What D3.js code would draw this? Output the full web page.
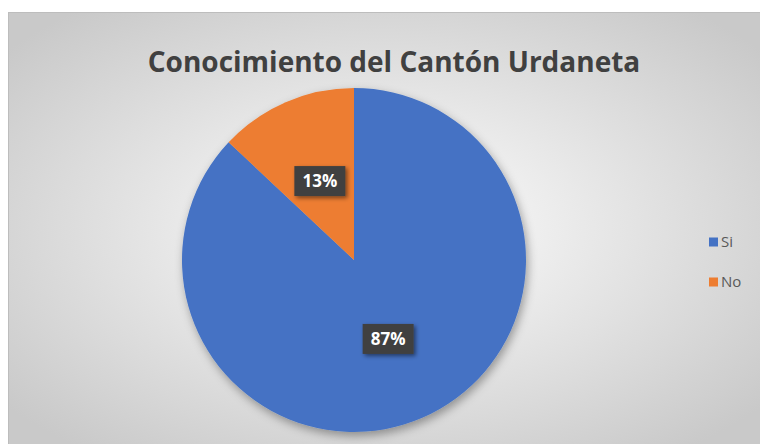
<!DOCTYPE html>
<html><head><meta charset="utf-8">
<script src="https://cdn.jsdelivr.net/npm/d3@7"></script>
<style>html,body{margin:0;padding:0;background:#fff;}svg{display:block;}</style>
</head><body>
<script>
const categories = ["Si", "No"];
const values = [87, 13];
const colors = ["#4472C4", "#ED7D31"];
const titleText = "Conocimiento del Cantón Urdaneta";

const W = 760, H = 444;
const svg = d3.select("body").append("svg").attr("width", W).attr("height", H);
const defs = svg.append("defs");
const rg = defs.append("radialGradient").attr("id","bg").attr("cx","50%").attr("cy","50%").attr("r","65%");
rg.append("stop").attr("offset","0%").attr("stop-color","#ffffff");
rg.append("stop").attr("offset","100%").attr("stop-color","#c9c9c9");
const sh = defs.append("filter").attr("id","sh").attr("x","-30%").attr("y","-30%").attr("width","160%").attr("height","160%");
sh.append("feDropShadow").attr("dx",2).attr("dy",4).attr("stdDeviation",5).attr("flood-color","#000").attr("flood-opacity",0.35);
const sh2 = defs.append("filter").attr("id","sh2").attr("x","-30%").attr("y","-30%").attr("width","160%").attr("height","160%");
sh2.append("feDropShadow").attr("dx",2).attr("dy",2).attr("stdDeviation",2).attr("flood-color","#000").attr("flood-opacity",0.5);

svg.append("rect").attr("x",8.5).attr("y",12.5).attr("width",W-8).attr("height",H-12)
  .attr("fill","url(#bg)").attr("stroke","#bdbdbd").attr("stroke-width",1);

svg.append("text").attr("x",394).attr("y",72).attr("text-anchor","middle")
  .attr("font-family","'Open Sans', sans-serif").attr("font-weight","bold").attr("font-size",28)
  .attr("fill","#404040").text(titleText);

const cx = 354, cy = 260, R = 172;
const pie = d3.pie().sort(null).value(d => d)(values);
const arc = d3.arc().innerRadius(0).outerRadius(R);
const g = svg.append("g").attr("transform",`translate(${cx},${cy})`);
g.append("g").attr("filter","url(#sh)").selectAll("path").data(pie).join("path")
  .attr("d", arc).attr("fill", (d,i) => colors[i]);

const labelArc = d3.arc().innerRadius(R*0.5).outerRadius(R*0.5);
const total = d3.sum(values);
pie.forEach((d,i) => {
  const [x,y] = labelArc.centroid(d);
  const lg = g.append("g").attr("transform",`translate(${x},${y})`);
  const bw = 51, bh = 30;
  lg.append("rect").attr("x",-bw/2).attr("y",-bh/2).attr("width",bw).attr("height",bh)
    .attr("fill","#404040").attr("filter","url(#sh2)");
  lg.append("text").attr("text-anchor","middle").attr("dy","0.36em")
    .attr("font-family","'Open Sans', sans-serif").attr("font-weight","bold").attr("font-size",17)
    .attr("fill","#fff").text(Math.round(values[i]/total*100)+"%");
});

const leg = svg.append("g").attr("transform","translate(709,242)");
categories.forEach((c,i) => {
  const r = leg.append("g").attr("transform",`translate(0,${i*40})`);
  r.append("rect").attr("x",0).attr("y",-4.5).attr("width",9).attr("height",9).attr("fill",colors[i]);
  r.append("text").attr("x",12).attr("y",0).attr("dy","0.35em")
    .attr("font-family","'Open Sans', sans-serif").attr("font-size",15).attr("fill","#595959").text(c);
});
</script>
</body></html>
